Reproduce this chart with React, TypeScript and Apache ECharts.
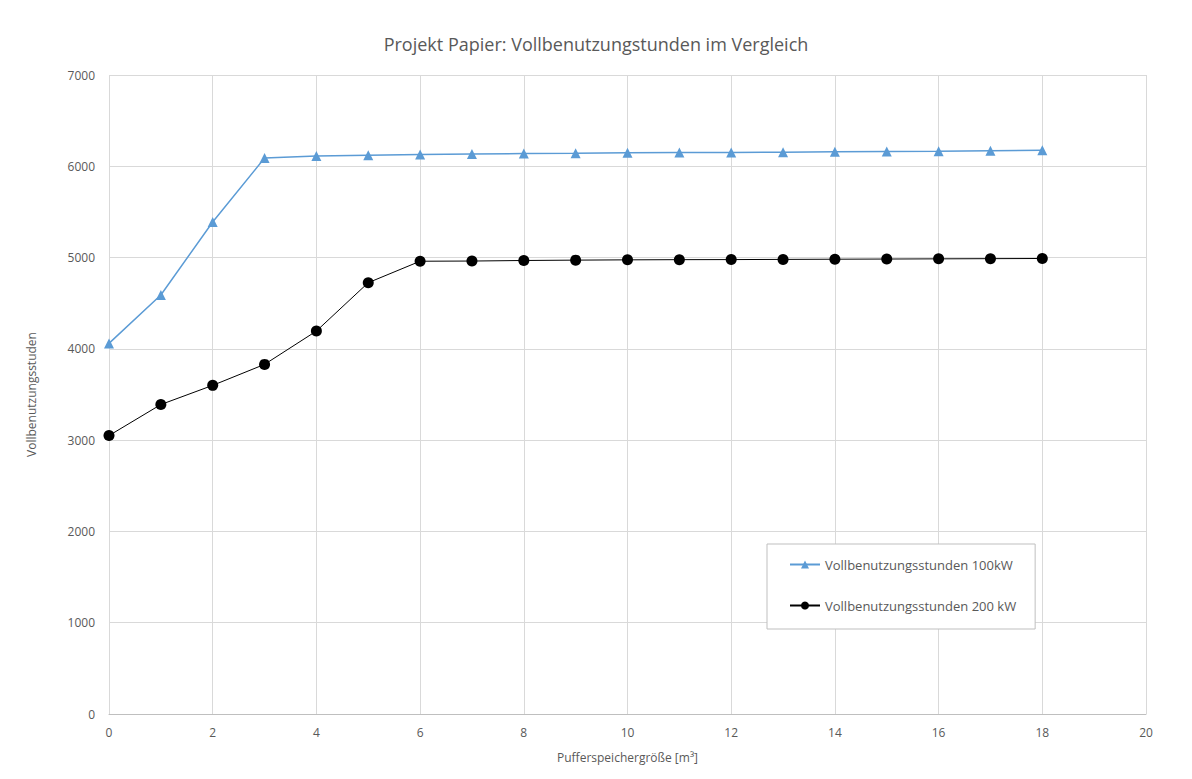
import React, { useEffect, useRef } from "react";
import * as echarts from "echarts";

// Puffer size in m³
const pufferSizes = [0, 1, 2, 3, 4, 5, 6, 7, 8, 9, 10, 11, 12, 13, 14, 15, 16, 17, 18];
// Full-load hours, 100 kW plant
const stunden100kW = [4060, 4590, 5390, 6090, 6112, 6122, 6128, 6134, 6140, 6142, 6148, 6150, 6152, 6155, 6160, 6163, 6165, 6170, 6175];
// Full-load hours, 200 kW plant
const stunden200kW = [3050, 3390, 3600, 3830, 4195, 4725, 4960, 4962, 4968, 4972, 4975, 4977, 4978, 4980, 4982, 4984, 4986, 4988, 4990];

const seriesNames = ["Vollbenutzungsstunden 100kW", "Vollbenutzungsstunden 200 kW"];

const FONT = "'Open Sans', 'Noto Sans', sans-serif";
const TEXT = "#595959";

export default function App() {
  const ref = useRef<HTMLDivElement>(null);

  useEffect(() => {
    if (!ref.current) return;
    const chart = echarts.init(ref.current, undefined, { renderer: "svg" });
    chart.setOption({
      animation: false,
      backgroundColor: "#ffffff",
      textStyle: { fontFamily: FONT },
      title: {
        text: "Projekt Papier: Vollbenutzungstunden im Vergleich",
        left: "center",
        top: 30,
        textStyle: { fontFamily: FONT, fontSize: 18, fontWeight: "normal", color: TEXT },
      },
      grid: { left: 109, right: 46, top: 75, bottom: 65 },
      xAxis: {
        type: "value",
        min: 0,
        max: 20,
        interval: 2,
        name: "Pufferspeichergröße [m³]",
        nameLocation: "middle",
        nameGap: 37,
        nameTextStyle: { fontFamily: FONT, fontSize: 12, color: TEXT },
        axisLine: { show: true, lineStyle: { color: "#bfbfbf", width: 1 } },
        axisTick: { show: false },
        axisLabel: { fontFamily: FONT, fontSize: 12, color: TEXT, margin: 12 },
        splitLine: { show: true, lineStyle: { color: "#d9d9d9", width: 1 } },
      },
      yAxis: {
        type: "value",
        min: 0,
        max: 7000,
        interval: 1000,
        name: "Vollbenutzungsstuden",
        nameLocation: "middle",
        nameGap: 72,
        nameTextStyle: { fontFamily: FONT, fontSize: 12, color: TEXT },
        axisLine: { show: false },
        axisTick: { show: false },
        axisLabel: {
          fontFamily: FONT,
          fontSize: 12,
          color: TEXT,
          margin: 14,
          formatter: (v: number) => String(v),
        },
        splitLine: { show: true, lineStyle: { color: "#d9d9d9", width: 1 } },
      },
      legend: {
        orient: "vertical",
        left: 767,
        top: 544,
        padding: [14, 19, 17, 22],
        itemGap: 28,
        itemWidth: 30,
        itemHeight: 10,
        backgroundColor: "#ffffff",
        borderColor: "#bfbfbf",
        borderWidth: 1,
        textStyle: { fontFamily: FONT, fontSize: 13, color: TEXT },
        data: seriesNames,
      },
      series: [
        {
          name: seriesNames[0],
          type: "line",
          data: pufferSizes.map((x, i) => [x, stunden100kW[i]]),
          symbol: "triangle",
          symbolSize: 10,
          itemStyle: { color: "#5b9bd5" },
          lineStyle: { color: "#5b9bd5", width: 1.5 },
        },
        {
          name: seriesNames[1],
          type: "line",
          data: pufferSizes.map((x, i) => [x, stunden200kW[i]]),
          symbol: "circle",
          symbolSize: 11,
          itemStyle: { color: "#000000" },
          lineStyle: { color: "#000000", width: 1 },
        },
      ],
    });
    return () => chart.dispose();
  }, []);

  return (
    <div
      ref={ref}
      style={{ width: 1192, height: 779, position: "absolute", left: 0, top: 0 }}
    />
  );
}
